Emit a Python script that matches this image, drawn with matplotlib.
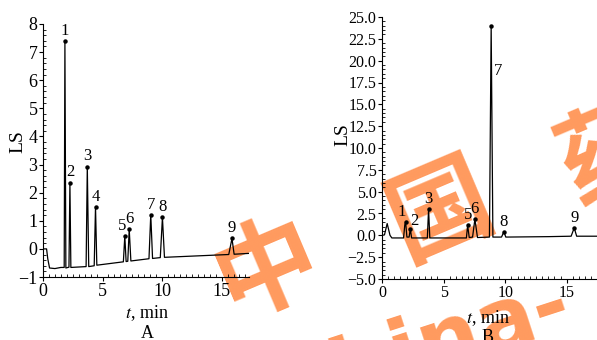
import numpy as np
import matplotlib.pyplot as plt
from matplotlib.ticker import MultipleLocator, FuncFormatter

plt.rcParams['font.family'] = ['Liberation Serif', 'DejaVu Serif']
plt.rcParams['mathtext.fontset'] = 'stix'

# ---- trace A (time in min, LS signal) ----
t_a = [0, 0.3, 0.4, 0.55, 1.0, 1.5, 1.78, 1.84, 1.92, 2.18, 2.26, 2.34,
       3.62, 3.72, 3.84, 4.3, 4.41, 4.52, 6.75, 6.87, 6.98, 7.12, 7.24, 7.38,
       8.9, 9.05, 9.2, 9.85, 10.03, 10.2, 15.6, 15.87, 16.05, 17.3]
y_a = [0, 0, -0.35, -0.68, -0.7, -0.66, -0.66, 7.38, -0.68, -0.65, 2.36, -0.66,
       -0.63, 2.93, -0.63, -0.6, 1.5, -0.58, -0.46, 0.46, -0.45, -0.44, 0.7, -0.43,
       -0.35, 1.22, -0.34, -0.31, 1.12, -0.3, -0.2, 0.37, -0.19, -0.16]
peaks_a_t = [1.84, 2.26, 3.72, 4.41, 6.87, 7.24, 9.05, 10.03, 15.87]
peaks_a_y = [7.38, 2.36, 2.93, 1.5, 0.46, 0.7, 1.22, 1.12, 0.37]

# ---- trace B ----
t_b = [0, 0.2, 0.42, 0.65, 0.8, 1.75, 1.85, 1.92, 2.02, 2.2, 2.3, 2.4,
       3.68, 3.78, 3.88, 6.85, 6.95, 7.08, 7.35, 7.54, 7.75, 8.72, 8.86, 9.0,
       9.7, 9.89, 10.05, 13.5, 15.35, 15.6, 15.8, 17.45]
y_b = [0, 0.05, 1.35, 0.0, -0.3, -0.3, 1.2, 1.5, -0.2, -0.2, 0.75, -0.3,
       -0.3, 3.0, -0.3, -0.3, 1.15, -0.25, -0.2, 1.85, -0.25, -0.2, 24.0, -0.2,
       -0.2, 0.4, -0.2, -0.15, -0.1, 0.85, -0.1, -0.1]
peaks_b_t = [1.92, 2.3, 3.78, 6.95, 7.54, 8.86, 9.89, 15.6]
peaks_b_y = [1.5, 0.75, 3.0, 1.15, 1.85, 24.0, 0.4, 0.85]

labels_a = ['1', '2', '3', '4', '5', '6', '7', '8', '9']
labels_b = ['1', '2', '3', '5', '6', '7', '8', '9']

W, H = 597, 340
fig = plt.figure(figsize=(W / 100, H / 100), dpi=100)

# watermark, sits under the plot
wm_color = '#ff9a5e'
for ch, (px, py) in zip(['中', '国', '药'], [(268, 270), (440, 212), (612, 154)]):
    fig.text(px / W, 1 - py / H, ch, fontsize=74, color=wm_color, rotation=23,
             ha='center', va='center', family=['Noto Sans CJK SC'],
             fontweight='bold', zorder=-5)
fig.text(427 / W, 1 - 349 / H, 'china-', fontsize=62, color=wm_color, rotation=18,
         ha='center', va='center', family=['DejaVu Sans'], fontweight='bold', zorder=-5)


def minus_fmt(fmt):
    return FuncFormatter(lambda v, p: (fmt % v).replace('-', '\u2212'))


def style_axis(ax, ymajor, yminor, fmt, size):
    for s in ['top', 'right']:
        ax.spines[s].set_visible(False)
    ax.set_facecolor('none')
    ax.xaxis.set_major_locator(MultipleLocator(5))
    ax.xaxis.set_minor_locator(MultipleLocator(0.5))
    ax.yaxis.set_major_locator(MultipleLocator(ymajor))
    ax.yaxis.set_minor_locator(MultipleLocator(yminor))
    ax.xaxis.set_major_formatter(minus_fmt('%d'))
    ax.yaxis.set_major_formatter(minus_fmt(fmt))
    ax.tick_params(which='major', direction='out', length=3, width=0.8, labelsize=size, pad=1)
    ax.tick_params(which='minor', direction='in', length=2, width=0.6)


# ---- panel A ----
ax_a = fig.add_axes([43 / W, 1 - 277 / H, (249 - 43) / W, (277 - 24) / H])
ax_a.plot(t_a, y_a, color='black', lw=0.9)
ax_a.plot(peaks_a_t, peaks_a_y, 'o', color='black', ms=2.2)
for lab, px, py in zip(labels_a, peaks_a_t, peaks_a_y):
    dx = -2 if lab == '5' else 0
    ax_a.annotate(lab, (px, py), xytext=(dx, 1.5), textcoords='offset points',
                  ha='center', va='bottom', fontsize=12)
ax_a.set_xlim(0, 17.3)
ax_a.set_ylim(-1, 8)
style_axis(ax_a, 1, 0.2, '%d', 13)

fig.text(18 / W, 1 - 142 / H, 'LS', rotation=90, ha='center', va='center', fontsize=14)
fig.text(147 / W, 1 - 313 / H, r'$t$, min', ha='center', va='center', fontsize=13)
fig.text(147 / W, 1 - 333 / H, 'A', ha='center', va='center', fontsize=13)

# ---- panel B ----
ax_b = fig.add_axes([382 / W, 1 - 279 / H, (W - 382) / W, (279 - 17) / H])
ax_b.plot(t_b, y_b, color='black', lw=0.9)
ax_b.plot(peaks_b_t, peaks_b_y, 'o', color='black', ms=2.2)
offsets_b = {'1': (-3, 1.5), '2': (3, 0), '7': (5, -38)}
for lab, px, py in zip(labels_b, peaks_b_t, peaks_b_y):
    ax_b.annotate(lab, (px, py), xytext=offsets_b.get(lab, (0, 1.5)),
                  textcoords='offset points', ha='center', va='bottom', fontsize=12)
ax_b.set_xlim(0, 17.45)
ax_b.set_ylim(-5, 25)
style_axis(ax_b, 2.5, 0.5, '%.1f', 11.5)

fig.text(343 / W, 1 - 135 / H, 'LS', rotation=90, ha='center', va='center', fontsize=14)
fig.text(488 / W, 1 - 318 / H, r'$t$, min', ha='center', va='center', fontsize=13)
fig.text(488 / W, 1 - 338 / H, 'B', ha='center', va='center', fontsize=13)

fig.savefig('out.png', dpi=100)
